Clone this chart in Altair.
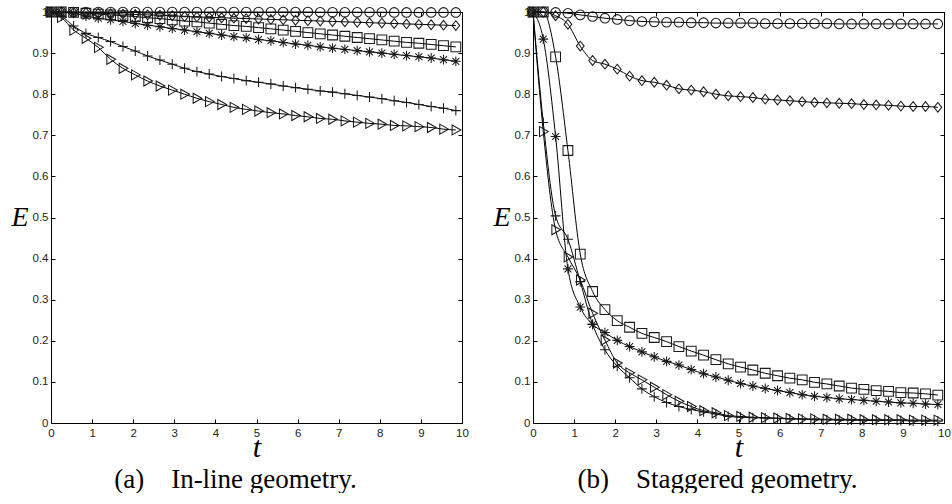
import altair as alt
import pandas as pd

# Sampling instants carrying a marker (t = 0, then every 0.3 from 0.25)
T = [0, 0.25, 0.55, 0.85, 1.15, 1.45, 1.75, 2.05, 2.35, 2.65, 2.95, 3.25,
     3.55, 3.85, 4.15, 4.45, 4.75, 5.05, 5.35, 5.65, 5.95, 6.25, 6.55, 6.85,
     7.15, 7.45, 7.75, 8.05, 8.35, 8.65, 8.95, 9.25, 9.55, 9.85]

SERIES = ["circle", "diamond", "square", "asterisk", "plus", "triangle"]

# (a) in-line geometry
inline_circle = [1.0, 1.0, 1.0, 1.0, 1.0, 1.0, 1.0, 1.0, 1.0, 1.0, 1.0, 1.0,
                 1.0, 1.0, 1.0, 1.0, 1.0, 1.0, 1.0, 1.0, 1.0, 1.0, 0.9995, 0.9995,
                 0.9995, 0.9995, 0.9995, 0.9995, 0.999, 0.999, 0.999, 0.999, 0.999, 0.999]
inline_diamond = [1.0, 1.0, 0.999, 0.998, 0.997, 0.996, 0.995, 0.994, 0.993, 0.992,
                  0.991, 0.989, 0.988, 0.987, 0.986, 0.985, 0.984, 0.983, 0.982, 0.981,
                  0.980, 0.979, 0.978, 0.977, 0.976, 0.975, 0.974, 0.973, 0.972, 0.971,
                  0.970, 0.969, 0.968, 0.967]
inline_square = [1.0, 1.0, 0.999, 0.997, 0.995, 0.993, 0.991, 0.989, 0.986, 0.984,
                 0.981, 0.978, 0.976, 0.973, 0.970, 0.967, 0.965, 0.962, 0.959, 0.956,
                 0.953, 0.950, 0.947, 0.944, 0.941, 0.938, 0.935, 0.932, 0.929, 0.926,
                 0.924, 0.921, 0.918, 0.915]
inline_asterisk = [1.0, 0.999, 0.997, 0.990, 0.985, 0.981, 0.977, 0.972, 0.968, 0.964,
                   0.960, 0.956, 0.952, 0.948, 0.944, 0.940, 0.937, 0.933, 0.930, 0.926,
                   0.922, 0.919, 0.915, 0.912, 0.909, 0.906, 0.903, 0.900, 0.897, 0.894,
                   0.891, 0.888, 0.884, 0.880]
inline_plus = [1.0, 0.990, 0.966, 0.948, 0.938, 0.928, 0.916, 0.905, 0.893, 0.883,
               0.873, 0.863, 0.855, 0.849, 0.843, 0.838, 0.833, 0.829, 0.825, 0.820,
               0.816, 0.812, 0.808, 0.805, 0.801, 0.797, 0.793, 0.789, 0.784, 0.780,
               0.775, 0.770, 0.766, 0.760]
inline_triangle = [1.0, 0.987, 0.956, 0.936, 0.914, 0.885, 0.863, 0.847, 0.832, 0.820,
                   0.810, 0.800, 0.790, 0.782, 0.775, 0.768, 0.763, 0.759, 0.755, 0.752,
                   0.748, 0.745, 0.741, 0.739, 0.735, 0.732, 0.729, 0.727, 0.724, 0.723,
                   0.721, 0.719, 0.715, 0.713]

# (b) staggered geometry
stag_circle = [1.0, 1.0, 0.999, 0.997, 0.993, 0.989, 0.985, 0.982, 0.979, 0.977,
               0.976, 0.975, 0.975, 0.974, 0.974, 0.973, 0.973, 0.973, 0.973, 0.972,
               0.972, 0.972, 0.972, 0.972, 0.972, 0.971, 0.971, 0.971, 0.971, 0.971,
               0.971, 0.971, 0.971, 0.971]
stag_diamond = [1.0, 1.0, 0.991, 0.970, 0.917, 0.882, 0.873, 0.861, 0.844, 0.833,
                0.829, 0.822, 0.813, 0.810, 0.806, 0.800, 0.796, 0.794, 0.792, 0.788,
                0.786, 0.784, 0.782, 0.780, 0.779, 0.778, 0.777, 0.775, 0.774, 0.773,
                0.771, 0.770, 0.770, 0.768]
stag_square = [1.0, 1.0, 0.891, 0.663, 0.411, 0.320, 0.276, 0.249, 0.233, 0.218,
               0.208, 0.198, 0.186, 0.175, 0.165, 0.154, 0.144, 0.136, 0.129, 0.121,
               0.115, 0.109, 0.105, 0.099, 0.095, 0.090, 0.085, 0.082, 0.079, 0.077,
               0.074, 0.073, 0.071, 0.068]
stag_asterisk = [1.0, 0.934, 0.697, 0.375, 0.282, 0.240, 0.220, 0.201, 0.186, 0.173,
                 0.161, 0.150, 0.141, 0.130, 0.120, 0.112, 0.104, 0.096, 0.090, 0.084,
                 0.079, 0.074, 0.069, 0.065, 0.062, 0.059, 0.057, 0.055, 0.053, 0.051,
                 0.049, 0.048, 0.046, 0.045]
stag_plus = [1.0, 0.731, 0.504, 0.447, 0.344, 0.240, 0.178, 0.138, 0.110, 0.083,
             0.064, 0.050, 0.040, 0.033, 0.027, 0.022, 0.016, 0.014, 0.013, 0.012,
             0.011, 0.010, 0.009, 0.008, 0.008, 0.007, 0.007, 0.006, 0.006, 0.006,
             0.006, 0.005, 0.005, 0.005]
stag_triangle = [1.0, 0.709, 0.470, 0.404, 0.348, 0.267, 0.202, 0.146, 0.122, 0.105,
                 0.087, 0.069, 0.053, 0.040, 0.030, 0.025, 0.018, 0.016, 0.014, 0.013,
                 0.012, 0.011, 0.010, 0.010, 0.009, 0.009, 0.009, 0.008, 0.008, 0.008,
                 0.008, 0.007, 0.007, 0.007]

X_TICKS = list(range(11))
Y_TICKS = [0, 0.1, 0.2, 0.3, 0.4, 0.5, 0.6, 0.7, 0.8, 0.9, 1]

# MATLAB-style open markers (custom paths live on a [-1, 1] box)
SHAPE_RANGE = [
    "circle",
    "M0,-1L0.8,0L0,1L-0.8,0Z",
    "square",
    "M-1,0L1,0M0,-1L0,1M-0.7,-0.7L0.7,0.7M-0.7,0.7L0.7,-0.7",
    "M-1,0L1,0M0,-1L0,1",
    "M-0.75,-1L1,0L-0.75,1Z",
]
SIZE_RANGE = [92, 100, 52, 58, 72, 76]

LABEL_FONT = "Liberation Sans"
SERIF = "Liberation Serif"


def frame(series_values):
    rows = []
    for name, values in zip(SERIES, series_values):
        for t, e in zip(T, values):
            rows.append({"t": t, "E": e, "series": name})
    return pd.DataFrame(rows)


def panel(df, caption):
    xs = alt.Scale(domain=[0, 10], nice=False, zero=False)
    ys = alt.Scale(domain=[0, 1], nice=False, zero=False)
    tick_common = dict(offset=-4, tickSize=4, tickColor="black", tickWidth=1,
                       domain=False, grid=False)

    x_bottom = alt.X("t:Q", scale=xs, axis=alt.Axis(
        orient="bottom", values=X_TICKS, labelPadding=4, labelFlush=False,
        labelFont=LABEL_FONT, labelFontSize=11.5, labelColor="#222",
        title="t", titleFont=SERIF, titleFontStyle="italic",
        titleFontWeight="normal", titleFontSize=30, titleColor="black",
        titlePadding=-6, **tick_common))
    y_left = alt.Y("E:Q", scale=ys, axis=alt.Axis(
        orient="left", values=Y_TICKS, format=".1~f", labelPadding=3,
        labelFont=LABEL_FONT, labelFontSize=11.5, labelColor="#222",
        title="E", titleFont=SERIF, titleFontStyle="italic",
        titleFontWeight="normal", titleFontSize=28, titleColor="black",
        titleAngle=0, titleAlign="right", titleBaseline="middle",
        titlePadding=4, **tick_common))
    x_top = alt.X("t:Q", scale=xs, axis=alt.Axis(
        orient="top", values=X_TICKS, labels=False, title=None, **tick_common))
    y_right = alt.Y("E:Q", scale=ys, axis=alt.Axis(
        orient="right", values=Y_TICKS, labels=False, title=None, **tick_common))

    base = alt.Chart(df)
    lines = base.mark_line(interpolate="monotone", color="black",
                           strokeWidth=1).encode(
        x=x_bottom, y=y_left, detail="series:N")
    points = base.mark_point(filled=False, color="#1a1a1a", strokeWidth=1.05,
                             opacity=1).encode(
        x=x_top, y=y_right,
        shape=alt.Shape("series:N", scale=alt.Scale(domain=SERIES, range=SHAPE_RANGE),
                        legend=None),
        size=alt.Size("series:N", scale=alt.Scale(domain=SERIES, range=SIZE_RANGE),
                      legend=None))
    return alt.layer(lines, points).resolve_axis(
        x="independent", y="independent").properties(
        width=411, height=411,
        title=alt.TitleParams(caption, orient="bottom", anchor="middle",
                              font=SERIF, fontSize=27, fontWeight="normal",
                              color="black", offset=4, dx=-21))


left = panel(frame([inline_circle, inline_diamond, inline_square,
                    inline_asterisk, inline_plus, inline_triangle]),
             "(a)\u00a0\u00a0\u00a0 In-line geometry.")
right = panel(frame([stag_circle, stag_diamond, stag_square,
                     stag_asterisk, stag_plus, stag_triangle]),
              "(b)\u00a0\u00a0\u00a0 Staggered geometry.")

chart = alt.hconcat(left, right, spacing=23).properties(
    padding={"left": 10, "top": 4, "right": 0, "bottom": 0},
    background="white",
).configure_view(stroke="black", strokeWidth=1)

chart.save("out.html", embed_options={"renderer": "svg", "actions": False})
